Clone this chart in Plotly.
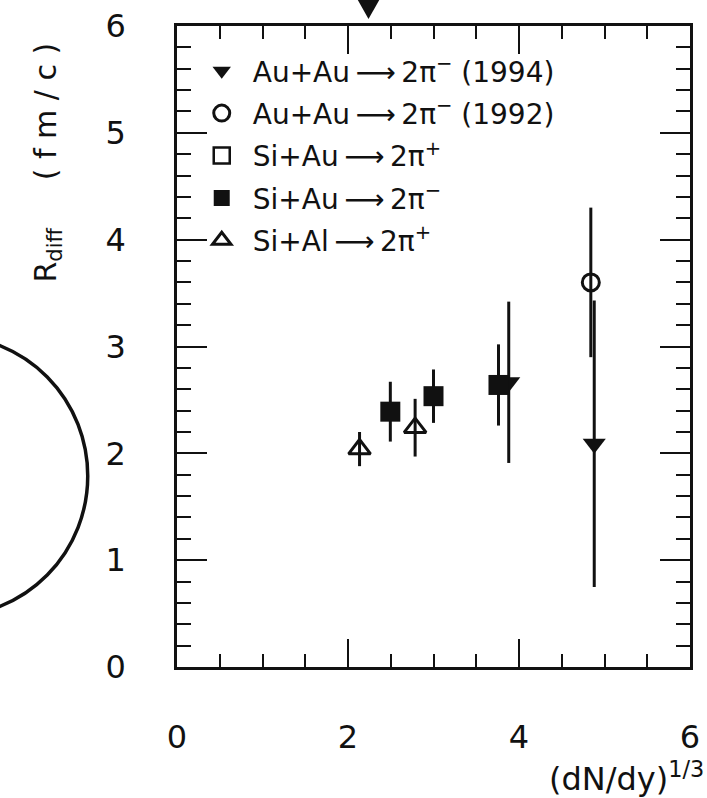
import plotly.graph_objects as go

# ---- data ----
auau94_x = [3.88, 4.88]
auau94_y = [2.665, 2.09]
auau94_err = [0.755, 1.34]

auau92_x = [4.84]
auau92_y = [3.60]
auau92_err = [0.70]

siau_plus_x = [None]
siau_plus_y = [None]

siau_minus_x = [2.495, 3.0, 3.76]
siau_minus_y = [2.39, 2.535, 2.64]
siau_minus_err = [0.28, 0.25, 0.38]

sial_x = [2.135, 2.785]
sial_y = [2.04, 2.24]
sial_err = [0.16, 0.27]

# marker of the neighbouring panel, cropped at the top edge
top_x = [2.24]
top_y = [6.16]

names = [
    "Au+Au\u2009\u27f6\u20092\u03c0<sup>\u2212</sup> (1994)",
    "Au+Au\u2009\u27f6\u20092\u03c0<sup>\u2212</sup> (1992)",
    "Si+Au\u2009\u27f6\u20092\u03c0<sup>+</sup>",
    "Si+Au\u2009\u27f6\u20092\u03c0<sup>\u2212</sup>",
    "Si+Al\u2009\u27f6\u20092\u03c0<sup>+</sup>",
]

FONT = "DejaVu Sans, Liberation Sans, sans-serif"
INK = "#111111"
X_MAX = 6
Y_MAX = 6

def eb(arr):
    return dict(type="data", array=arr, symmetric=True, thickness=3,
                width=0, color=INK)

fig = go.Figure()
fig.add_trace(go.Scatter(
    x=auau94_x, y=auau94_y, mode="markers", name=names[0], legendgroup="a",
    error_y=eb(auau94_err),
    marker=dict(symbol="triangle-down", size=20, color=INK, line=dict(width=0))))
fig.add_trace(go.Scatter(
    x=auau92_x, y=auau92_y, mode="markers", name=names[1], legendgroup="b",
    error_y=eb(auau92_err),
    marker=dict(symbol="circle-open", size=17, color=INK, line=dict(width=3))))
fig.add_trace(go.Scatter(
    x=siau_plus_x, y=siau_plus_y, mode="markers", name=names[2], legendgroup="c",
    marker=dict(symbol="square-open", size=16, color=INK, line=dict(width=2.5))))
fig.add_trace(go.Scatter(
    x=siau_minus_x, y=siau_minus_y, mode="markers", name=names[3], legendgroup="d",
    error_y=eb(siau_minus_err),
    marker=dict(symbol="square", size=20, color=INK, line=dict(width=0))))
fig.add_trace(go.Scatter(
    x=sial_x, y=sial_y, mode="markers", name=names[4], legendgroup="e",
    error_y=eb(sial_err),
    marker=dict(symbol="triangle-up-open", size=19, color=INK, line=dict(width=3))))

L, R, T, B = 177, 7, 26, 131
W, H = 707, 798
pw, ph = W - L - R, H - T - B

def px_x(p):
    return (p - L) / pw

def px_y(p):
    return (H - B - p) / ph

axis_common = dict(
    showline=True, linewidth=2.5, linecolor=INK, mirror="allticks",
    ticks="inside", tickcolor=INK, tickwidth=2, showgrid=False, zeroline=False,
    tickfont=dict(family=FONT, size=32, color=INK), ticklabeloverflow="allow",
)

fig.update_xaxes(range=[0, X_MAX], tickvals=[0, 2, 4, 6], ticklen=28,
                 ticklabelstandoff=40,
                 minor=dict(dtick=0.5, ticks="inside", ticklen=13, tickwidth=2,
                            tickcolor=INK, showgrid=False),
                 **axis_common)
fig.update_yaxes(range=[0, Y_MAX], tickvals=[0, 1, 2, 3, 4, 5, 6], ticklen=30,
                 ticklabelstandoff=42,
                 minor=dict(dtick=0.2, ticks="inside", ticklen=14, tickwidth=2,
                            tickcolor=INK, showgrid=False),
                 **axis_common)

# cropped down-triangle of the panel above (drawn as a shape in paper units)
tx = top_x[0] / X_MAX          # horizontal domain fraction from the data value
ty = top_y[0] / Y_MAX          # vertical domain fraction of its centre
hw = 11 / pw                   # half width (11 px)
up, down = 9 / ph, 10 / ph     # extent above / below centre
tri_path = (f"M {tx - hw:.5f},{ty + up:.5f} L {tx + hw:.5f},{ty + up:.5f} "
            f"L {tx:.5f},{ty - down:.5f} Z")

fig.update_layout(
    width=W, height=H,
    margin=dict(l=L, r=R, t=T, b=B, pad=0),
    paper_bgcolor="white", plot_bgcolor="white",
    font=dict(family=FONT, color=INK),
    showlegend=True,
    legend=dict(x=px_x(191), y=px_y(46), xanchor="left", yanchor="top",
                bgcolor="rgba(0,0,0,0)", borderwidth=0,
                font=dict(family=FONT, size=28, color=INK),
                traceorder="grouped", tracegroupgap=3, itemwidth=52),
    annotations=[
        dict(text="(dN/dy)<sup>1/3</sup>", xref="paper", yref="paper",
             x=px_x(716), y=px_y(800), xanchor="right", yanchor="bottom",
             showarrow=False, font=dict(family=FONT, size=32, color=INK)),
        dict(text="R<sub>diff</sub>\u00a0\u00a0\u00a0\u00a0\u00a0( f m / c )",
             xref="paper", yref="paper",
             x=px_x(44), y=px_y(163), xanchor="center", yanchor="middle",
             textangle=-90, showarrow=False,
             font=dict(family=FONT, size=30, color=INK)),
    ],
    shapes=[
        dict(type="circle", xref="paper", yref="paper",
             x0=px_x(-196), x1=px_x(86), y0=px_y(616), y1=px_y(336),
             line=dict(color=INK, width=3.5)),
        dict(type="path", xref="paper", yref="paper", path=tri_path,
             fillcolor=INK, line=dict(color=INK, width=0)),
    ],
)

fig.write_html("out.html")
